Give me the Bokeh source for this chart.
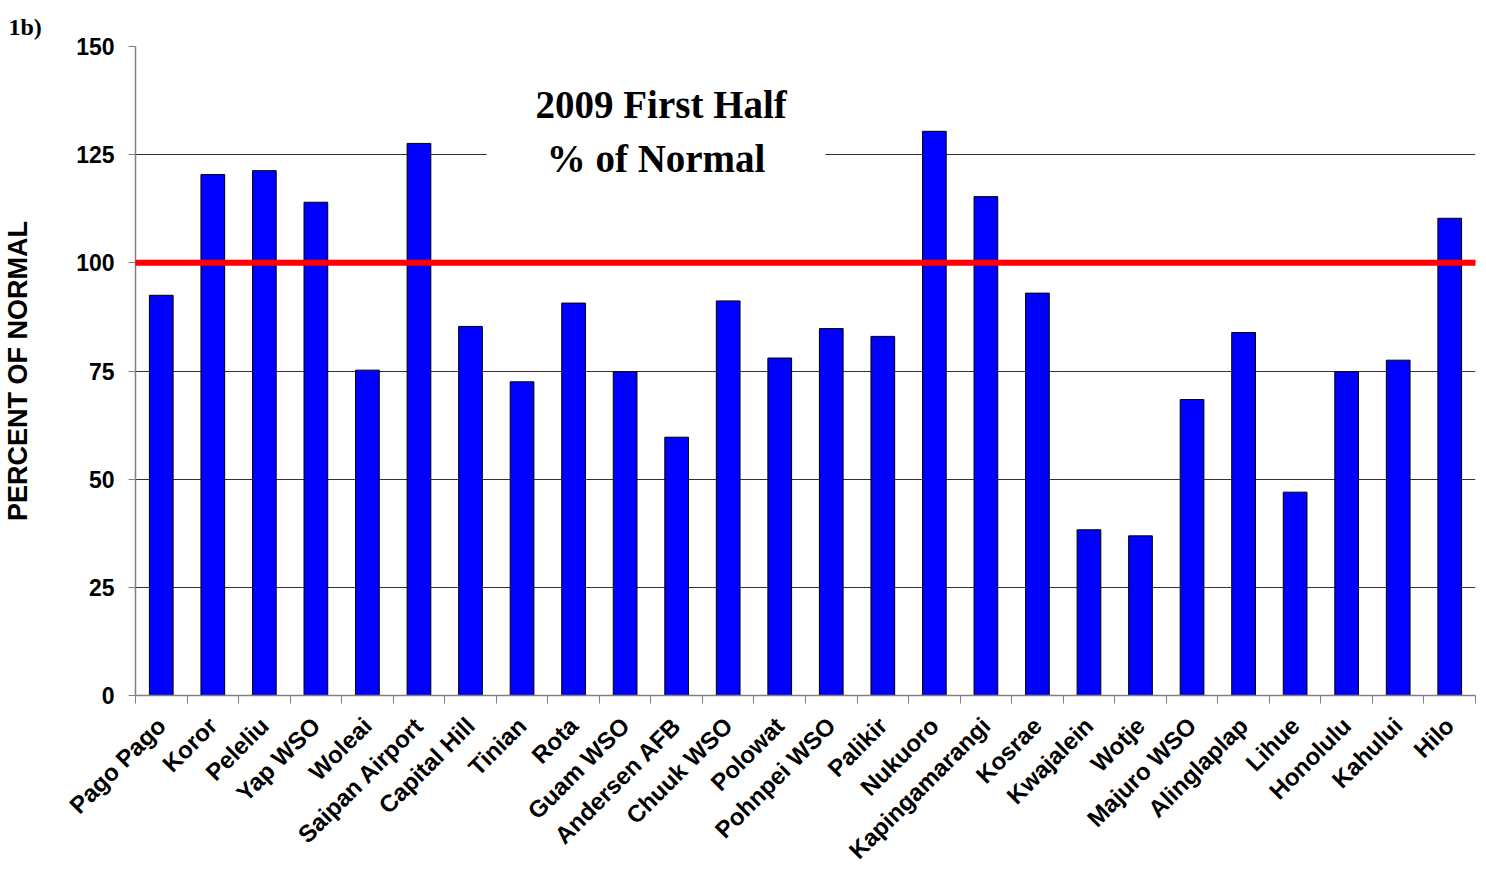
from math import pi
from bokeh.plotting import figure
from bokeh.models import Range1d, FixedTicker, Span, Label, CustomJSTickFormatter
from bokeh.embed import file_html
from bokeh.resources import INLINE

stations = ["Pago Pago", "Koror", "Peleliu", "Yap WSO", "Woleai", "Saipan Airport",
            "Capital Hill", "Tinian", "Rota", "Guam WSO", "Andersen AFB", "Chuuk WSO",
            "Polowat", "Pohnpei WSO", "Palikir", "Nukuoro", "Kapingamarangi", "Kosrae",
            "Kwajalein", "Wotje", "Majuro WSO", "Alinglaplap", "Lihue", "Honolulu",
            "Kahului", "Hilo"]
percent = [92.5, 120.4, 121.3, 114.0, 75.2, 127.6,
           85.3, 72.5, 90.7, 74.8, 59.7, 91.2,
           78.0, 84.8, 83.0, 130.4, 115.3, 93.0,
           38.3, 36.9, 68.4, 83.9, 47.0, 74.8,
           77.5, 110.3]
ytick_values = [0, 25, 50, 75, 100, 125, 150]
normal_level = 100
title_lines = ["2009 First Half", "% of Normal"]
panel_tag = "1b)"

n = len(stations)
xpos = [i + 0.5 for i in range(n)]
bounds = list(range(n + 1))

p = figure(width=1478, height=876, output_backend="svg", toolbar_location=None,
           x_range=Range1d(0, n), y_range=Range1d(0, 150),
           min_border_left=135, min_border_top=46, min_border_right=3,
           background_fill_color="white", border_fill_color="white")
p.outline_line_color = None

# panel tag as a left-shifted title
p.title.text = panel_tag
p.title.align = "left"
p.title.offset = -127
p.title.vertical_align = "top"
p.title.text_font = "Liberation Serif"
p.title.text_font_style = "bold"
p.title.text_font_size = "24px"
p.title.text_color = "black"
p.title.standoff = 10

p.vbar(x=xpos, top=percent, width=0.46, fill_color="#0000FF",
       line_color="black", line_width=1)

# x axis
xa = p.xaxis[0]
xa.ticker = FixedTicker(ticks=xpos, minor_ticks=bounds)
xa.formatter = CustomJSTickFormatter(args=dict(names=stations),
                                     code="return names[Math.floor(tick)];")
xa.major_label_orientation = pi / 4
xa.major_tick_line_color = None
xa.minor_tick_line_color = "#808080"
xa.minor_tick_out = 8
xa.minor_tick_in = 0
xa.major_label_standoff = 18
xa.major_label_text_font = "Liberation Sans"
xa.major_label_text_font_style = "bold"
xa.major_label_text_font_size = "24px"
xa.major_label_text_color = "black"
xa.axis_line_color = "#808080"
xa.axis_line_width = 1.5

# y axis
ya = p.yaxis[0]
ya.ticker = FixedTicker(ticks=ytick_values, minor_ticks=[])
ya.axis_label = "PERCENT OF NORMAL"
ya.axis_label_text_font = "Liberation Sans"
ya.axis_label_text_font_style = "bold"
ya.axis_label_text_font_size = "27px"
ya.axis_label_text_color = "black"
ya.axis_label_standoff = 40
ya.major_label_text_font = "Liberation Sans"
ya.major_label_text_font_style = "bold"
ya.major_label_text_font_size = "23px"
ya.major_label_text_color = "black"
ya.major_label_standoff = 14
ya.major_tick_out = 7
ya.major_tick_in = 0
ya.major_tick_line_color = "#808080"
ya.minor_tick_line_color = None
ya.axis_line_color = "#808080"
ya.axis_line_width = 1.5

p.xgrid.grid_line_color = None
p.ygrid.ticker = FixedTicker(ticks=ytick_values)
p.ygrid.grid_line_color = "#333333"
p.ygrid.grid_line_width = 1

p.add_layout(Span(location=normal_level, dimension="width", line_color="#FF0000",
                  line_width=6, line_cap="round"))

p.add_layout(Label(x=10.2, y=136.6, text=title_lines[0], text_align="center",
                   text_baseline="middle", text_font="Liberation Serif",
                   text_font_style="bold", text_font_size="39px", text_color="black"))
p.add_layout(Label(x=10.1, y=124.2, text=title_lines[1], text_align="center",
                   text_baseline="middle", text_font="Liberation Serif",
                   text_font_style="bold", text_font_size="39px", text_color="black",
                   background_fill_color="white",
                   padding=dict(left=60, right=60, top=4, bottom=4)))

open("out.html", "w").write(file_html(p, INLINE))
